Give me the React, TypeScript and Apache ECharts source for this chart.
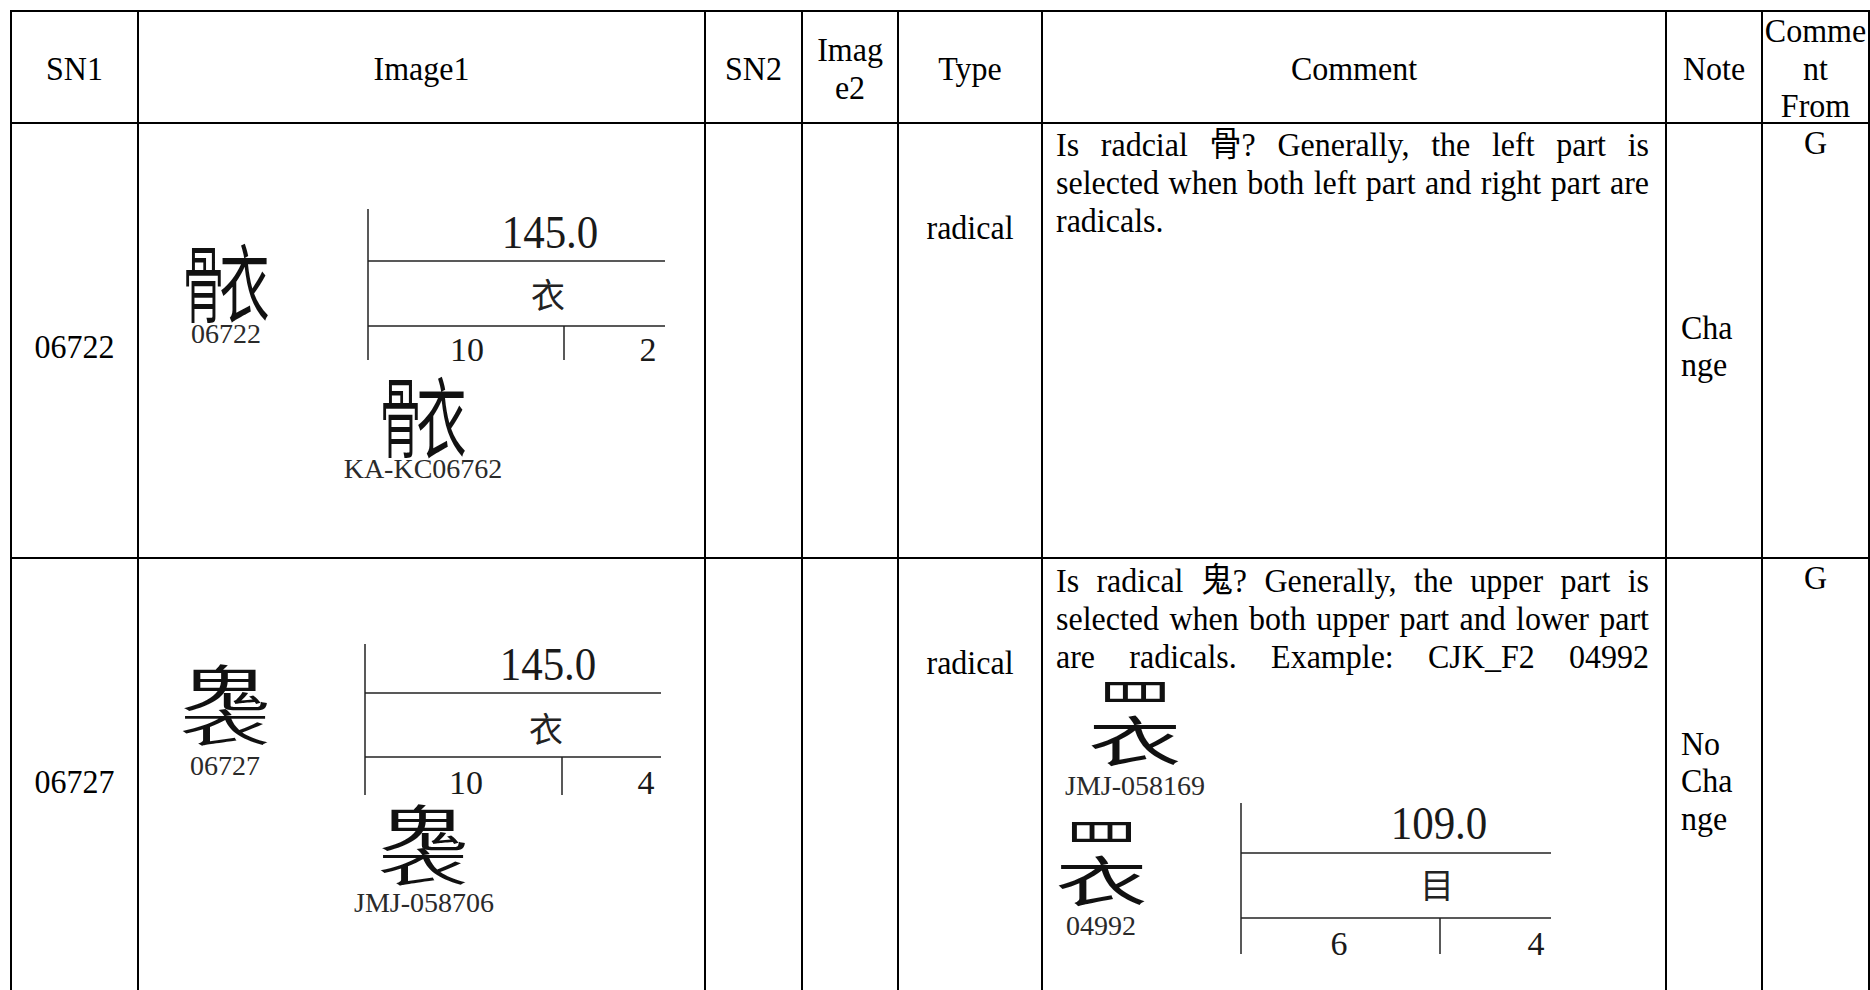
import React, { useEffect, useRef } from "react";
import * as echarts from "echarts";

// ---- table content ----
const headerLabels: string[][] = [
  ["SN1"], ["Image1"], ["SN2"], ["Imag", "e2"], ["Type"], ["Comment"], ["Note"], ["Comme", "nt", "From"],
];
const sn1Values = ["06722", "06727"];
const typeValues = ["radical", "radical"];
const noteValues: string[][] = [["Cha", "nge"], ["No", "Cha", "nge"]];
const commentFromValues = ["G", "G"];
const commentLinesRow1 = [
  "Is radcial 骨? Generally, the left part is",
  "selected when both left part and right part are",
  "radicals.",
];
const commentLinesRow2 = [
  "Is radical 鬼? Generally, the upper part is",
  "selected when both upper part and lower part",
  "are radicals. Example: CJK_F2 04992",
];
const commentJustified: boolean[][] = [[true, true, false], [true, true, true]];

// ---- glyph images ----
const glyphParts: string[][] = [["骨", "衣"], ["鬼", "衣"], ["罒", "衣"]];
const glyphSplit: string[] = ["lr", "tb", "tb"];
const glyphRatios: number[][] = [[0.45, 0.55], [0.56, 0.44], [0.36, 0.64]];
const glyphInk: number[][] = [[0.9, 0.9], [0.9, 0.9], [0.5, 0.9]];
const glyphWidthScale: number[][] = [[1, 1], [1, 1], [0.82, 1]];
const glyphCodes = ["06722", "06727", "04992"];
const sourceCodes = ["KA-KC06762", "JMJ-058706", "JMJ-058169"];
const radicalStrokes = ["145.0", "145.0", "109.0"];
const radicalChars = ["衣", "衣", "目"];
const totalStrokes = ["10", "10", "6"];
const residualStrokes = ["2", "4", "4"];

const SERIF = '"Liberation Serif", "Times New Roman", "Noto Sans CJK SC", serif';
const CJK = '"Noto Sans CJK SC", "Noto Sans CJK JP", sans-serif';
const STRETCH = 1.08;

const colX = [11, 138, 705, 802, 898, 1042, 1666, 1762, 1869];
const rowY = [11, 123, 558, 1000];

function txt(s: string, x: number, y: number, size: number, align = "center", fill = "#000", family = SERIF, extra: any = {}) {
  return {
    type: "text",
    x,
    y,
    silent: true,
    ...extra,
    style: {
      text: s,
      x: 0,
      y: 0,
      fill,
      font: `${size}px ${family}`,
      textAlign: align,
      textVerticalAlign: "middle",
      verticalAlign: "middle",
    },
  };
}

function body(s: string, x: number, y: number, align = "center") {
  return txt(s, x, y, 32, align, "#000", SERIF, { scaleY: STRETCH });
}

function ln(x1: number, y1: number, x2: number, y2: number, w = 2, color = "#000") {
  return { type: "line", silent: true, shape: { x1, y1, x2, y2 }, style: { stroke: color, lineWidth: w } };
}

function glyph(i: number, bx: number, by: number, bw: number, bh: number) {
  const parts = glyphParts[i];
  const r = glyphRatios[i];
  const ink = glyphInk[i];
  const ws = glyphWidthScale[i];
  const els: any[] = [];
  if (glyphSplit[i] === "lr") {
    const fs = bh / 0.9;
    let cx = bx;
    parts.forEach((p, k) => {
      const w = bw * r[k];
      els.push(txt(p, cx + w / 2, by + bh / 2, fs, "center", "#111", CJK, { scaleX: w / (fs * ink[k]), scaleY: 1 }));
      cx += w;
    });
  } else {
    const fs = bw / 0.9;
    let cy = by;
    parts.forEach((p, k) => {
      const h = bh * r[k];
      els.push(txt(p, bx + bw / 2, cy + h / 2, fs, "center", "#111", CJK, { scaleX: ws[k], scaleY: h / (fs * ink[k]) }));
      cy += h;
    });
  }
  return els;
}

function radicalBox(i: number, L: any) {
  const { x, y, h1, h2, bottom, width, tick, vx, vy, cx, cy, dl, dr, dy } = L;
  return [
    ln(x, y, x, y + bottom, 1.5, "#222"),
    ln(x, y + h1, x + width, y + h1, 1.5, "#222"),
    ln(x, y + h2, x + width, y + h2, 1.5, "#222"),
    ln(x + tick, y + h2, x + tick, y + bottom, 1.5, "#222"),
    txt(radicalStrokes[i], x + vx, y + vy, 43, "center", "#1a1a1a", SERIF, { scaleY: 1.08 }),
    txt(radicalChars[i], x + cx, y + cy, 34, "center", "#222", CJK),
    txt(totalStrokes[i], x + dl, y + dy, 34, "center", "#1a1a1a"),
    txt(residualStrokes[i], x + dr, y + dy, 34, "center", "#1a1a1a"),
  ];
}

export default function App() {
  const ref = useRef<HTMLDivElement>(null);
  useEffect(() => {
    if (!ref.current) return;
    const chart = echarts.init(ref.current, undefined, { renderer: "svg" });
    const canvas = document.createElement("canvas");
    const ctx = canvas.getContext("2d")!;
    ctx.font = `32px ${SERIF}`;

    const els: any[] = [];
    // grid lines
    els.push(ln(colX[0], rowY[0], colX[8], rowY[0]));
    els.push(ln(colX[0], rowY[1], colX[8], rowY[1]));
    els.push(ln(colX[0], rowY[2], colX[8], rowY[2]));
    colX.forEach((x) => els.push(ln(x, rowY[0] - 1, x, rowY[3])));

    // header
    headerLabels.forEach((lines, c) => {
      const cx = (colX[c] + colX[c + 1]) / 2;
      const mid = (rowY[0] + rowY[1]) / 2 + 1;
      lines.forEach((s, k) => {
        els.push(body(s, cx, mid + (k - (lines.length - 1) / 2) * 37.5));
      });
    });

    // rows
    const snY = [346, 781];
    const typeY = [227, 662];
    const noteY = [327, 743];
    const fromY = [142, 577];
    const commentY = [144, 580];
    [commentLinesRow1, commentLinesRow2].forEach((lines, r) => {
      els.push(body(sn1Values[r], (colX[0] + colX[1]) / 2, snY[r]));
      els.push(body(typeValues[r], (colX[4] + colX[5]) / 2, typeY[r]));
      noteValues[r].forEach((s, k) => els.push(body(s, 1681, noteY[r] + k * 37.3, "left")));
      els.push(body(commentFromValues[r], (colX[7] + colX[8]) / 2, fromY[r]));
      const left = 1056, right = 1649;
      lines.forEach((line, k) => {
        const y = commentY[r] + k * 37.8;
        if (!commentJustified[r][k]) {
          els.push(body(line, left, y, "left"));
          return;
        }
        const words = line.split(" ");
        const widths = words.map((w) => ctx.measureText(w).width);
        const total = widths.reduce((a, b) => a + b, 0);
        const gap = (right - left - total) / (words.length - 1);
        let x = left;
        words.forEach((w, i) => {
          els.push(body(w, x, y, "left"));
          x += widths[i] + gap;
        });
      });
    });

    // Image1 row 1
    els.push(...glyph(0, 185, 240, 82, 77));
    els.push(txt(glyphCodes[0], 226, 333, 28, "center", "#2a2a2a"));
    els.push(...radicalBox(0, { x: 368, y: 209, h1: 52, h2: 117, bottom: 151, width: 297, tick: 196, vx: 182, vy: 23, cx: 180, cy: 84, dl: 99, dr: 280, dy: 140 }));
    els.push(...glyph(0, 382, 373, 82, 79));
    els.push(txt(sourceCodes[0], 423, 468, 28, "center", "#2a2a2a"));

    // Image1 row 2
    els.push(...glyph(1, 184, 663, 82, 80));
    els.push(txt(glyphCodes[1], 225, 765, 28, "center", "#2a2a2a"));
    els.push(...radicalBox(1, { x: 365, y: 644, h1: 49, h2: 113, bottom: 151, width: 296, tick: 197, vx: 183, vy: 20, cx: 181, cy: 83, dl: 101, dr: 281, dy: 138 }));
    els.push(...glyph(1, 382, 802, 82, 81));
    els.push(txt(sourceCodes[1], 424, 902, 28, "center", "#2a2a2a"));

    // example in comment row 2
    els.push(...glyph(2, 1093, 687, 84, 76));
    els.push(txt(sourceCodes[2], 1135, 785, 28, "center", "#2a2a2a"));
    els.push(...glyph(2, 1060, 827, 83, 76));
    els.push(txt(glyphCodes[2], 1101, 925, 28, "center", "#2a2a2a"));
    els.push(...radicalBox(2, { x: 1241, y: 803, h1: 50, h2: 115, bottom: 151, width: 310, tick: 199, vx: 198, vy: 20, cx: 196, cy: 80, dl: 98, dr: 295, dy: 140 }));

    chart.setOption({
      animation: false,
      backgroundColor: "#fff",
      graphic: { elements: els },
    });
    return () => chart.dispose();
  }, []);
  return (
    <div
      ref={ref}
      style={{ position: "absolute", left: 0, top: 0, width: 1870, height: 990, background: "#fff" }}
    />
  );
}
